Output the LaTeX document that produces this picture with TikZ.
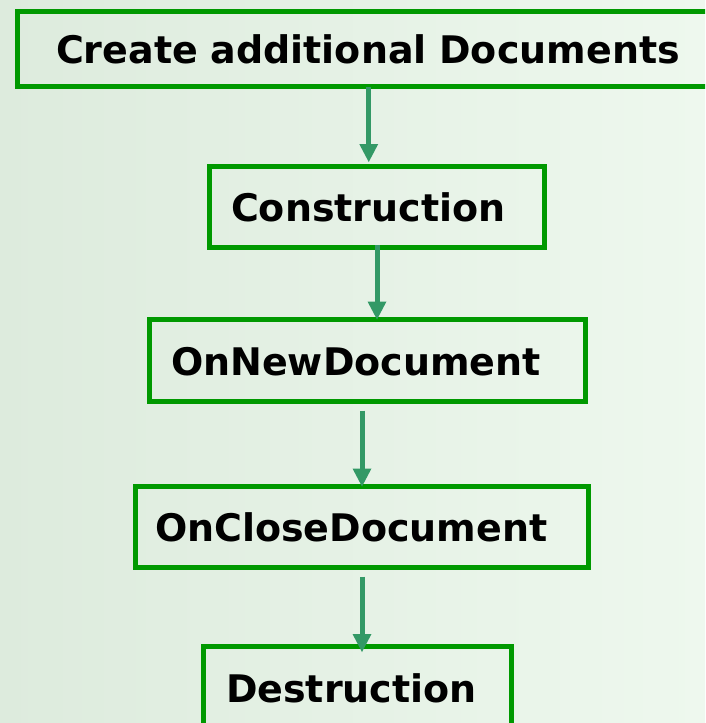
\documentclass[tikz,border=0pt]{standalone}
\usepackage{fontspec}
\setmainfont{DejaVu Sans}
\usetikzlibrary{arrows.meta,calc}

\definecolor{boxgreen}{RGB}{0,153,0}
\definecolor{flowgreen}{RGB}{51,153,102}
\definecolor{bgleft}{RGB}{221,235,221}
\definecolor{bgright}{RGB}{238,248,238}

\tikzset{
  stagebox/.style={draw=boxgreen, line width=5pt, outer sep=0pt,
    anchor=north west, align=left, inner ysep=0pt,
    font=\bfseries\fontsize{38}{40}\selectfont,
    text height=29.5pt, text depth=0pt},
  flow/.style={draw=flowgreen, line width=5pt,
    -{Triangle[width=19pt,length=18pt,line width=0pt]}}
}

\begin{document}
\begin{tikzpicture}[x=1pt,y=-1pt]
  \useasboundingbox (0,0) rectangle (705,723);
  \fill[left color=bgleft, right color=bgright] (0,0) rectangle (705,723);
  \clip (0,0) rectangle (705,723);

  % the five stages, from top to bottom
  \node[stagebox, minimum width=702.5pt, minimum height=75pt,
        inner xsep=38.5pt, text width=625.5pt]
    (b1) at (17.5,11.5) {Create additional Documents};
  \node[stagebox, minimum width=335pt, minimum height=81pt,
        inner xsep=21.5pt, text width=292pt]
    (b2) at (209.5,166.5) {Construction};
  \node[stagebox, minimum width=436pt, minimum height=82pt,
        inner xsep=21.5pt, text width=393pt]
    (b3) at (149.5,319.5) {OnNewDocument};
  \node[stagebox, minimum width=453pt, minimum height=81pt,
        inner xsep=19.5pt, text width=414pt]
    (b4) at (135.5,486.5) {OnCloseDocument};
  \node[stagebox, minimum width=308pt, minimum height=83pt,
        inner xsep=22.5pt, text width=263pt]
    (b5) at (203.5,646.5) {Destruction};

  % connectors between consecutive stages
  \draw[flow] (b1.south) -- ([yshift=4.5pt]b1.south |- b2.north);
  \draw[flow] ([yshift=2.5pt]b2.south) -- (b2.south |- b3.north);
  \draw[flow] ([yshift=-9pt]b3.south -| b4.north) -- (b4.north);
  \draw[flow] ([yshift=-9pt]b4.south) -- ([yshift=-5.5pt]b4.south |- b5.north);
\end{tikzpicture}
\end{document}
